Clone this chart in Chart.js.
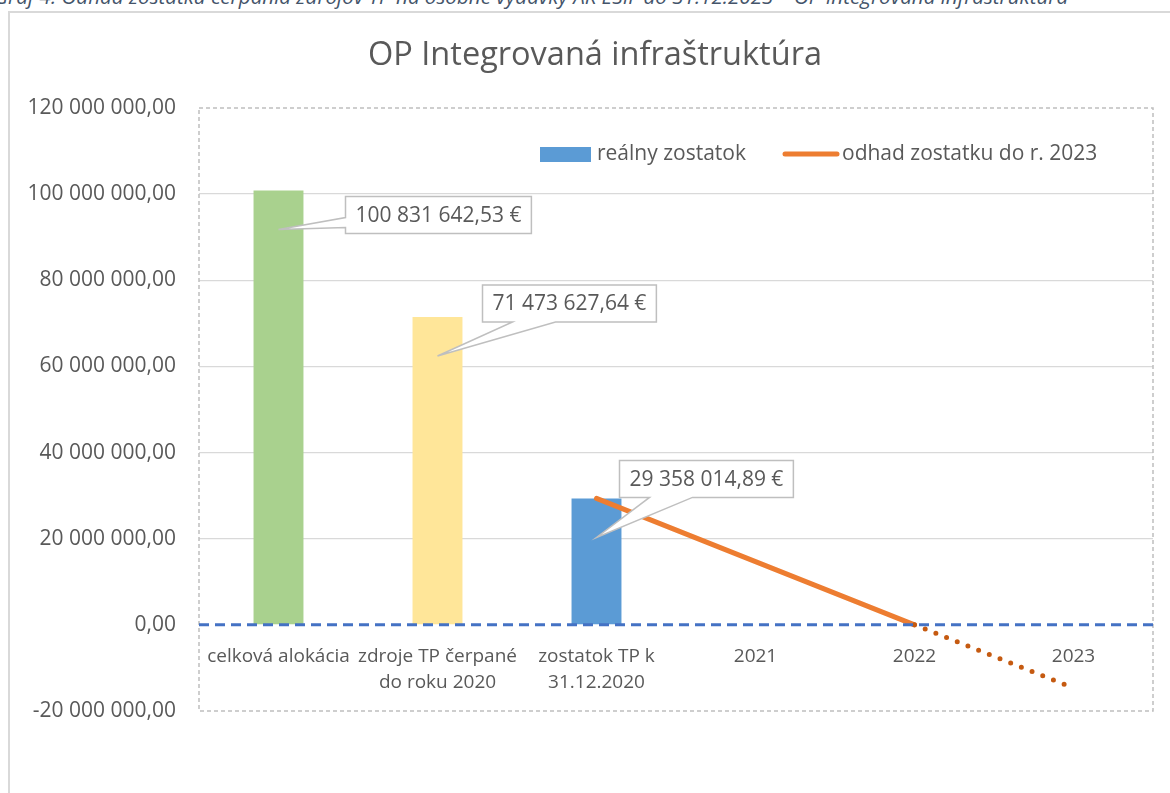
<!DOCTYPE html>
<html>
<head>
<meta charset="utf-8">
<script src="https://cdn.jsdelivr.net/npm/chart.js@4/dist/chart.umd.min.js"></script>
<style>
  body { margin: 0; background: #fff; overflow: hidden; }
  #caption {
    position: absolute; left: -6px; top: -12px; white-space: nowrap;
    font: italic 20.6px "Open Sans", sans-serif; color: #44546a; line-height: 16px;
  }
  #frame {
    position: absolute; left: 8px; top: 11px; width: 1300px; height: 900px;
    border-left: 2px solid #d9d9d9; border-top: 2px solid #d9d9d9;
  }
  #wrap { position: absolute; left: 0; top: 0; width: 1170px; height: 793px; }
</style>
</head>
<body>
<div id="caption">Graf 4: Odhad zostatku čerpania zdrojov TP na osobné výdavky AK EŠIF do 31.12.2023 – OP Integrovaná infraštruktúra</div>
<div id="frame"></div>
<div id="wrap"><canvas id="chart" width="1170" height="793"></canvas></div>
<script>
// Data
const categories = [
    'celková alokácia',
    ['zdroje TP čerpané', 'do roku 2020'],
    ['zostatok TP k', '31.12.2020'],
    '2021', '2022', '2023'
];
const realneZostatky = [100831642.53, 71473627.64, 29358014.89, null, null, null];
const odhadZostatku = [null, null, 29358014.89, 14679007.45, 0, -14679007.45];
const barColors = ['#a9d18e', '#ffe699', '#5b9bd5'];
const seriesNames = ['reálny zostatok', 'odhad zostatku do r. 2023'];
const chartTitle = 'OP Integrovaná infraštruktúra';

const textColor = '#595959';
const font = '"Open Sans", sans-serif';

// 120 000 000,00
function fmt(v) {
    let parts = Math.abs(v).toFixed(2).split('.');
    let whole = parts[0].replace(/\B(?=(\d{3})+(?!\d))/g, ' ');
    return (v < 0 ? '-' : '') + whole + ',' + parts[1];
}

// dashed frame round the plot area + dashed zero line
const plotFrame = {
    id: 'plotFrame',
    beforeDatasetsDraw(chart) {
        const {ctx, chartArea: a} = chart;
        ctx.save();
        ctx.strokeStyle = '#bfbfbf';
        ctx.lineWidth = 1.5;
        ctx.setLineDash([4, 3]);
        ctx.strokeRect(a.left, a.top, a.right - a.left, a.bottom - a.top);
        ctx.restore();
    },
    afterDatasetsDraw(chart) {
        const {ctx, chartArea: a} = chart;
        const y0 = chart.scales.y.getPixelForValue(0);
        ctx.save();
        ctx.strokeStyle = '#4472c4';
        ctx.lineWidth = 3;
        ctx.setLineDash([10, 6]);
        ctx.beginPath();
        ctx.moveTo(a.left, y0);
        ctx.lineTo(a.right, y0);
        ctx.stroke();
        ctx.restore();
    }
};

// callouts with the bar values
const calloutPos = [[67, 6, 'left'], [45, -32, 'bottom'], [23, -38, 'bottom']];
const callouts = {
    id: 'callouts',
    afterDatasetsDraw(chart) {
        const ctx = chart.ctx;
        const meta = chart.getDatasetMeta(0);
        ctx.save();
        ctx.font = '21px ' + font;
        meta.data.forEach((bar, i) => {
            const v = realneZostatky[i];
            if (v == null) return;
            const text = fmt(v) + ' €';
            const w = ctx.measureText(text).width + 20;
            const h = 37;
            const x = bar.x + calloutPos[i][0];
            const y = bar.y + calloutPos[i][1];
            const tipX = bar.x, tipY = bar.y + 39;
            ctx.beginPath();
            if (calloutPos[i][2] === 'left') {
                ctx.moveTo(x, y);
                ctx.lineTo(x + w, y);
                ctx.lineTo(x + w, y + h);
                ctx.lineTo(x, y + h);
                ctx.lineTo(x, y + 31);
                ctx.lineTo(tipX, tipY);
                ctx.lineTo(x, y + 21);
                ctx.closePath();
            } else {
                ctx.moveTo(x, y);
                ctx.lineTo(x + w, y);
                ctx.lineTo(x + w, y + h);
                ctx.lineTo(x + 73, y + h);
                ctx.lineTo(tipX, tipY);
                ctx.lineTo(x + 30, y + h);
                ctx.lineTo(x, y + h);
                ctx.closePath();
            }
            ctx.fillStyle = '#fff';
            ctx.fill();
            ctx.strokeStyle = '#bfbfbf';
            ctx.lineWidth = 1.5;
            ctx.stroke();
            ctx.fillStyle = textColor;
            ctx.textAlign = 'center';
            ctx.textBaseline = 'middle';
            ctx.fillText(text, x + w / 2, y + h / 2 + 1);
        });
        ctx.restore();
    }
};

// title and legend inside the plot
const titleAndLegend = {
    id: 'titleAndLegend',
    afterDraw(chart) {
        const {ctx, chartArea: a} = chart;
        ctx.save();
        ctx.fillStyle = textColor;
        ctx.font = '32.5px ' + font;
        ctx.textAlign = 'center';
        ctx.textBaseline = 'middle';
        ctx.fillText(chartTitle, 595, 56);

        const y = a.top + 46;
        ctx.font = '21px ' + font;
        ctx.textAlign = 'left';
        ctx.fillStyle = '#5b9bd5';
        ctx.fillRect(a.left + 341, y - 7, 51, 15);
        ctx.fillStyle = textColor;
        ctx.fillText(seriesNames[0], a.left + 398, y);
        ctx.strokeStyle = '#ed7d31';
        ctx.lineWidth = 5;
        ctx.lineCap = 'round';
        ctx.beginPath();
        ctx.moveTo(a.left + 586, y);
        ctx.lineTo(a.left + 638, y);
        ctx.stroke();
        ctx.fillText(seriesNames[1], a.left + 643, y);
        ctx.restore();
    }
};

const ctx = document.getElementById('chart').getContext('2d');
const myChart = new Chart(ctx, {
    type: 'bar',
    data: {
        labels: categories,
        datasets: [{
            label: seriesNames[0],
            data: realneZostatky,
            backgroundColor: barColors,
            categoryPercentage: 1,
            barPercentage: 0.314,
            order: 1
        }, {
            type: 'line',
            label: seriesNames[1],
            data: odhadZostatku,
            borderColor: '#ed7d31',
            borderWidth: 5,
            borderCapStyle: 'round',
            pointRadius: 0,
            tension: 0,
            order: 0,
            segment: {
                borderColor: c => c.p0DataIndex >= 4 ? '#c55a11' : undefined,
                borderDash: c => c.p0DataIndex >= 4 ? [0, 11.5] : undefined
            }
        }]
    },
    options: {
        responsive: false,
        animation: false,
        devicePixelRatio: 1,
        layout: { padding: { left: 0, right: 17, top: 108, bottom: 82 } },
        plugins: {
            title: { display: false },
            legend: { display: false },
            tooltip: { enabled: false }
        },
        scales: {
            x: {
                position: { y: 0 },
                grid: { display: false },
                border: { display: false },
                ticks: {
                    color: textColor,
                    font: { family: font, size: 19, lineHeight: 1.4 },
                    padding: 10,
                    maxRotation: 0,
                    autoSkip: false
                }
            },
            y: {
                min: -20000000,
                max: 120000000,
                afterFit: scale => { scale.width = 199; },
                border: { display: false },
                grid: {
                    drawTicks: false,
                    lineWidth: 1.3,
                    color: c => (c.tick.value === 0 || c.tick.value === 120000000 || c.tick.value === -20000000) ? 'rgba(0,0,0,0)' : '#d9d9d9'
                },
                ticks: {
                    stepSize: 20000000,
                    padding: 23,
                    color: textColor,
                    font: { family: font, size: 21 },
                    callback: v => fmt(v)
                }
            }
        }
    },
    plugins: [plotFrame, callouts, titleAndLegend]
});
</script>
</body>
</html>
